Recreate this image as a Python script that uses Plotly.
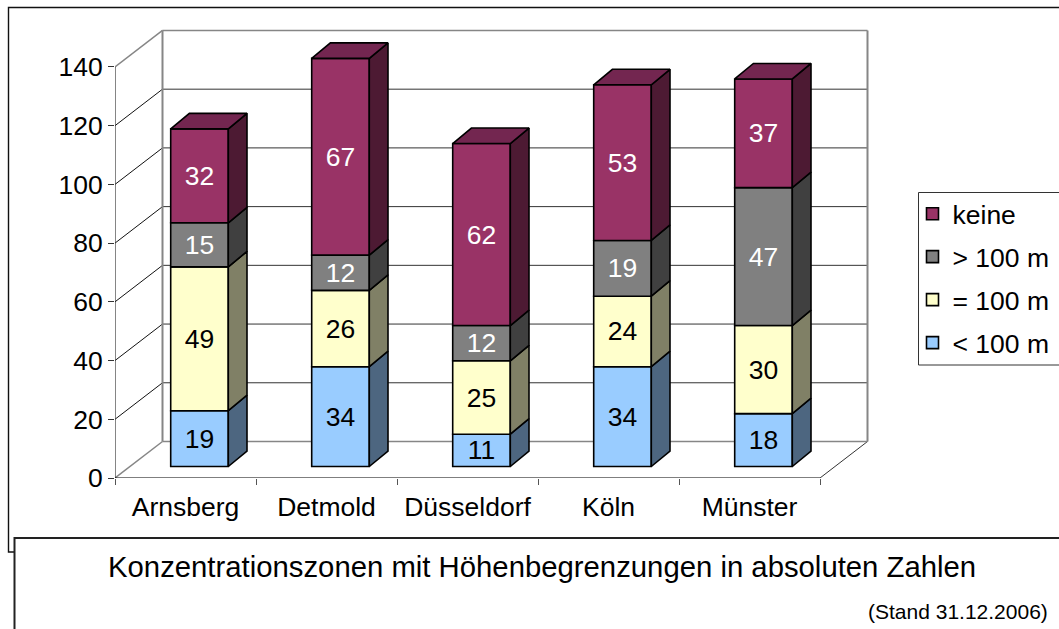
import plotly.graph_objects as go

categories = ["Arnsberg", "Detmold", "Düsseldorf", "Köln", "Münster"]
below_100 = [19, 34, 11, 34, 18]
equal_100 = [49, 26, 25, 24, 30]
above_100 = [15, 12, 12, 19, 47]
keine = [32, 67, 62, 53, 37]
series_names = ["< 100 m", "= 100 m", "> 100 m", "keine"]
series_values = [below_100, equal_100, above_100, keine]
front_colors = ["#99CCFF", "#FFFFCC", "#808080", "#993366"]
side_colors = ["#4D6680", "#808066", "#404040", "#4D1A33"]
top_colors = ["#7399BF", "#BFBF99", "#606060", "#732650"]
label_colors = ["black", "black", "white", "white"]
y_ticks = [0, 20, 40, 60, 80, 100, 120, 140]

W, H = 1059, 629
FONT = "Liberation Sans"
L, R, T, B = 115, 870, 28, 478       # plot area in pixels
CAT_PX = 141.0
VAL_PX = 2.936
x_max = (R - L) / CAT_PX
y_max = (B - T) / VAL_PX
n_cat = len(categories)

wall_dx = 47.5 / CAT_PX
wall_dy = 36.5 / VAL_PX
bar_dx = 18.7 / CAT_PX
bar_dy = 15.5 / VAL_PX
bar_w = 57.6 / CAT_PX
bar_shift = 14.0 / CAT_PX
floor = 11.5 / VAL_PX

def paper_x(px):
    return (px - L) / (R - L)

def paper_y(py):
    return (B - py) / (B - T)

fig = go.Figure()
stack = [floor] * n_cat
centers = [i + 0.5 + bar_shift for i in range(n_cat)]

polys = []
for s, (name, vals) in enumerate(zip(series_names, series_values)):
    fig.add_bar(
        x=centers, y=vals, base=list(stack), width=bar_w, name=name,
        legendgroup=name, legendrank=10 - s,
        marker=dict(color=front_colors[s], line=dict(color="black", width=1.6)),
        text=[str(v) for v in vals], textposition="inside", insidetextanchor="middle",
        textangle=0, constraintext="none",
        textfont=dict(family=FONT, size=26.5, color=label_colors[s]),
        hoverinfo="skip",
    )
    sx, sy = [], []
    for i, v in enumerate(vals):
        xr = centers[i] + bar_w / 2
        b, t = stack[i], stack[i] + v
        sx += [xr, xr + bar_dx, xr + bar_dx, xr, xr, None]
        sy += [b, b + bar_dy, t + bar_dy, t, b, None]
    polys.append((sx, sy, side_colors[s]))
    stack = [a + v for a, v in zip(stack, vals)]

tx, ty = [], []
for i in range(n_cat):
    xl = centers[i] - bar_w / 2
    xr = centers[i] + bar_w / 2
    t = stack[i]
    tx += [xl, xl + bar_dx, xr + bar_dx, xr, xl, None]
    ty += [t, t + bar_dy, t + bar_dy, t, t, None]
polys.append((tx, ty, top_colors[3]))

for px_, py_, col in polys:
    fig.add_scatter(x=px_, y=py_, mode="lines", fill="toself", fillcolor=col,
                    line=dict(color="black", width=1.6), showlegend=False, hoverinfo="skip")

shapes = []
def seg(x0, y0, x1, y1, color, width, layer="below"):
    shapes.append(dict(type="line", xref="x", yref="y", x0=x0, y0=y0, x1=x1, y1=y1,
                       line=dict(color=color, width=width), layer=layer))

GRAY = "#868686"
for v in y_ticks[1:-1]:
    seg(0, v, wall_dx, v + wall_dy, "#111111", 1)
    seg(wall_dx, v + wall_dy, n_cat + wall_dx, v + wall_dy, "#333333", 1)
seg(n_cat, 0, n_cat + wall_dx, wall_dy, "#333333", 1)
seg(0, 0, wall_dx, wall_dy, GRAY, 1.5)
seg(0, 140, wall_dx, 140 + wall_dy, GRAY, 1.5)
seg(wall_dx, 140 + wall_dy, n_cat + wall_dx, 140 + wall_dy, GRAY, 1.6)
seg(wall_dx, wall_dy, n_cat + wall_dx, wall_dy, GRAY, 1.6)
seg(wall_dx, wall_dy, wall_dx, 140 + wall_dy, GRAY, 2)
seg(n_cat + wall_dx, wall_dy, n_cat + wall_dx, 140 + wall_dy, GRAY, 2)
seg(0, 0, 0, 140, "#333333", 1.2)
seg(0, 0, n_cat, 0, "black", 1.2)

# outer chart frame, title box, legend box
shapes.append(dict(type="rect", xref="paper", yref="paper",
                   x0=paper_x(8.5), x1=paper_x(W + 10), y0=paper_y(552), y1=paper_y(7.5),
                   line=dict(color="#111111", width=1.4), fillcolor="rgba(0,0,0,0)", layer="below"))
shapes.append(dict(type="rect", xref="paper", yref="paper",
                   x0=paper_x(14.5), x1=paper_x(W + 10), y0=paper_y(H + 10), y1=paper_y(538),
                   line=dict(color="#222222", width=2), fillcolor="white", layer="below"))
shapes.append(dict(type="rect", xref="paper", yref="paper",
                   x0=paper_x(918.5), x1=paper_x(W + 10), y0=paper_y(365), y1=paper_y(192.5),
                   line=dict(color="#333333", width=1), fillcolor="white", layer="below"))

fig.update_layout(
    width=W, height=H, autosize=False,
    margin=dict(l=L, r=W - R, t=T, b=H - B, autoexpand=False),
    paper_bgcolor="white", plot_bgcolor="rgba(0,0,0,0)",
    font=dict(family=FONT, size=26.5, color="black"),
    barmode="overlay", shapes=shapes,
    xaxis=dict(range=[0, x_max], tickvals=[i + 0.5 for i in range(n_cat)], ticktext=categories,
               ticks="", showgrid=False, zeroline=False, showline=False,
               ticklabelstandoff=10,
               tickfont=dict(family=FONT, size=26.5, color="black"),
               minor=dict(tickmode="array", tickvals=list(range(n_cat + 1)), ticks="outside",
                          ticklen=6, tickwidth=1.2, tickcolor="#555555", showgrid=False)),
    yaxis=dict(range=[0, y_max], tickvals=y_ticks, ticks="outside", ticklen=6, tickwidth=1.2,
               tickcolor="#333333", showgrid=False, zeroline=False, showline=False,
               tickfont=dict(family=FONT, size=26.5, color="black")),
    legend=dict(x=paper_x(912.5), xanchor="left", y=paper_y(190), yanchor="top",
                bgcolor="rgba(0,0,0,0)", borderwidth=0,
                traceorder="grouped", tracegroupgap=5.5, itemclick=False,
                font=dict(family=FONT, size=26.5, color="black")),
    annotations=[
        dict(text="Konzentrationszonen mit Höhenbegrenzungen in absoluten Zahlen",
             xref="paper", yref="paper", x=paper_x(541.5), y=paper_y(566), xanchor="center",
             yanchor="middle", showarrow=False, font=dict(family=FONT, size=29.3, color="black")),
        dict(text="(Stand 31.12.2006)",
             xref="paper", yref="paper", x=paper_x(1050), y=paper_y(611), xanchor="right",
             yanchor="middle", showarrow=False, font=dict(family=FONT, size=21, color="black")),
    ],
)

fig.write_html("out.html", post_script="document.body.style.margin='0';document.body.style.overflow='hidden';",
               config={"displayModeBar": False})
